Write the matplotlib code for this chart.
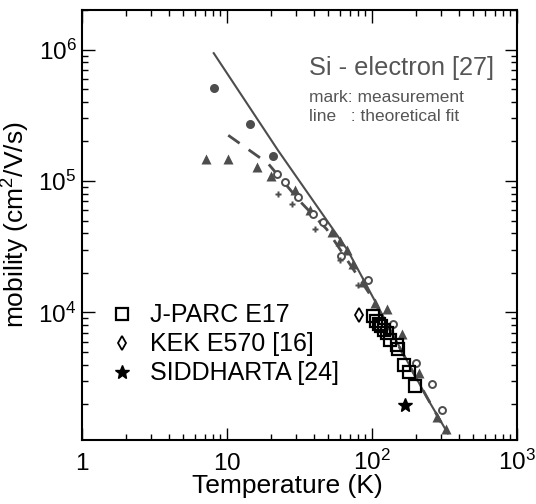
import matplotlib
matplotlib.use("Agg")
import matplotlib.pyplot as plt
from matplotlib.ticker import LogLocator, FixedLocator, FixedFormatter, NullFormatter

plt.rcParams["font.family"] = ["Liberation Sans", "DejaVu Sans"]
plt.rcParams["mathtext.fontset"] = "custom"
plt.rcParams["mathtext.rm"] = "Liberation Sans"
plt.rcParams["mathtext.it"] = "Liberation Sans:italic"
plt.rcParams["mathtext.bf"] = "Liberation Sans:bold"

GREY = "#4d4d4d"

# theoretical fits (solid / dashed)
fit_T = [8.1, 22.5, 68, 238, 334]
fit_mu = [9.4e5, 1.71e5, 2.97e4, 2.27e3, 1.2e3]
dash_T = [10.2, 19.2, 31.9, 48.7, 100, 198, 300]
dash_mu = [2.23e5, 1.36e5, 7.0e4, 4.3e4, 1.3e4, 3.3e3, 1.45e3]

# literature measurements (grey marks)
circ_T = [8.1, 14.4, 20.9]
circ_mu = [5.07e5, 2.70e5, 1.54e5]
tri_T = [7.2, 10.1, 16.0, 20.1, 29.5, 37.3, 53, 60, 67, 74, 87, 105, 126, 160, 212, 283, 322]
tri_mu = [1.46e5, 1.48e5, 1.29e5, 1.10e5, 8.5e4, 6.0e4, 4.1e4, 3.5e4, 2.97e4, 2.35e4,
          1.7e4, 1.17e4, 1.07e4, 6.8e3, 3.45e3, 1.6e3, 1.29e3]
open_T = [22.0, 25.1, 31.0, 39.4, 46.2, 61.5, 94.3, 140, 201, 258, 305]
open_mu = [1.14e5, 9.8e4, 7.55e4, 5.65e4, 4.87e4, 2.68e4, 1.78e4, 8.1e3, 4.1e3, 2.84e3, 1.8e3]
plus_T = [22.6, 27.9, 40.5, 60, 80.4]
plus_mu = [8.0e4, 6.7e4, 4.35e4, 2.49e4, 1.61e4]

# this work and others (black marks)
jparc_T = [102, 107, 111, 116, 121, 126, 134, 148, 151, 167, 179, 198]
jparc_mu = [9.33e3, 8.61e3, 8.2e3, 7.83e3, 7.39e3, 6.97e3, 6.13e3, 5.62e3, 5.24e3,
            3.95e3, 3.52e3, 2.74e3]
kek_T = [81.3]
kek_mu = [9.5e3]
sidd_T = [169]
sidd_mu = [1.96e3]

xtick_vals = [1, 10, 100, 1000]
xtick_labels = ["$1$", "$10$", "$10^2$", "$10^3$"]
ytick_vals = [1e4, 1e5, 1e6]
ytick_labels = ["$10^4$", "$10^5$", "$10^6$"]


def main():
    fig = plt.figure(figsize=(5.36, 5.04), dpi=100)
    ax = fig.add_axes([0.153, 0.127, 0.8115, 0.853])

    ax.plot(fit_T, fit_mu, color=GREY, lw=1.5, zorder=2)
    ax.plot(dash_T, dash_mu, color=GREY, lw=2, ls=(0, (5, 4)), zorder=2)

    ax.plot(circ_T, circ_mu, "o", color=GREY, ms=6.5, mec="none", zorder=3)
    ax.plot(tri_T, tri_mu, "^", color=GREY, ms=7, mec="none", zorder=3)
    ax.plot(open_T, open_mu, "o", mfc="white", mec=GREY, mew=1.4, ms=5, zorder=3)
    ax.plot(plus_T, plus_mu, "P", color=GREY, ms=5, mec="none", zorder=3)

    ax.plot(jparc_T, jparc_mu, "s", mfc="none", mec="black", mew=1.6, ms=8,
            label="J-PARC E17", zorder=4)
    ax.plot(kek_T, kek_mu, "d", mfc="none", mec="black", mew=1.3, ms=7,
            label="KEK E570 [16]", zorder=4)
    ax.plot(sidd_T, sidd_mu, "*", color="black", ms=10, label="SIDDHARTA [24]", zorder=4)

    ax.set_xscale("log")
    ax.set_yscale("log")
    ax.set_xlim(1, 1000)
    ax.set_ylim(1.07e3, 2e6)

    ax.xaxis.set_major_locator(FixedLocator(xtick_vals))
    ax.xaxis.set_major_formatter(FixedFormatter(xtick_labels))
    ax.yaxis.set_major_locator(FixedLocator(ytick_vals))
    ax.yaxis.set_major_formatter(FixedFormatter(ytick_labels))
    for axis in (ax.xaxis, ax.yaxis):
        axis.set_minor_locator(LogLocator(base=10, subs=range(2, 10), numticks=20))
        axis.set_minor_formatter(NullFormatter())

    ax.tick_params(which="both", direction="in", top=True, right=True, width=1)
    ax.tick_params(which="major", length=9, labelsize=17.5)
    ax.tick_params(which="minor", length=4.5)
    ax.tick_params(axis="x", which="major", pad=21.5)
    ax.tick_params(axis="y", which="major", pad=4)
    for lab in ax.get_xticklabels():
        lab.set_verticalalignment("baseline")
    for sp in ax.spines.values():
        sp.set_linewidth(1.5)

    ax.set_xlabel("Temperature (K)", fontsize=19)
    ax.xaxis.set_label_coords(0.472, -0.079)
    ax.set_ylabel("mobility (cm$^2$/V/s)", fontsize=19)
    ax.yaxis.set_label_coords(-0.115, 0.5)

    ax.text(0.522, 0.849, "Si - electron [27]", transform=ax.transAxes,
            fontsize=18.3, color="#555555")
    ax.text(0.522, 0.787, "mark: measurement", transform=ax.transAxes,
            fontsize=12.5, color="#555555")
    ax.text(0.522, 0.742, "line   : theoretical fit", transform=ax.transAxes,
            fontsize=12.5, color="#555555")

    ax.legend(loc="upper left", bbox_to_anchor=(0.068, 0.318), frameon=False,
              fontsize=18, handlelength=0.8, handletextpad=0.72, labelspacing=0.2,
              borderpad=0, borderaxespad=0)

    fig.savefig("out.png", dpi=100)


if __name__ == "__main__":
    main()
